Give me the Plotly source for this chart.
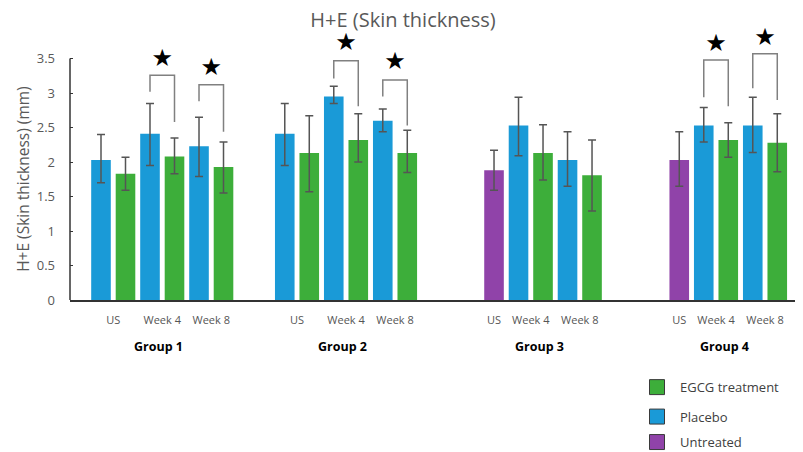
import plotly.graph_objects as go

# ---------------- data ----------------
groups = ["Group 1", "Group 2", "Group 3", "Group 4"]
timepoints = ["US", "Week 4", "Week 8"]
series_names = ["EGCG treatment", "Placebo", "Untreated"]

bar_group = ["Group 1"] * 6 + ["Group 2"] * 6 + ["Group 3"] * 5 + ["Group 4"] * 5
bar_time = (["US", "US", "Week 4", "Week 4", "Week 8", "Week 8"] * 2
            + ["US", "Week 4", "Week 4", "Week 8", "Week 8"] * 2)
bar_series = ((["Placebo", "EGCG treatment"] * 3) * 2
              + (["Untreated"] + ["Placebo", "EGCG treatment"] * 2) * 2)
bar_mean = [2.03, 1.83, 2.41, 2.08, 2.23, 1.93,
            2.41, 2.13, 2.95, 2.32, 2.60, 2.13,
            1.88, 2.53, 2.13, 2.03, 1.81,
            2.03, 2.53, 2.32, 2.53, 2.28]
bar_upper = [2.40, 2.07, 2.85, 2.35, 2.65, 2.29,
             2.85, 2.67, 3.10, 2.70, 2.77, 2.46,
             2.17, 2.94, 2.54, 2.44, 2.32,
             2.44, 2.79, 2.57, 2.94, 2.70]
bar_lower = [1.70, 1.59, 1.95, 1.83, 1.79, 1.55,
             1.95, 1.57, 2.85, 2.00, 2.44, 1.85,
             1.59, 2.09, 1.74, 1.65, 1.29,
             1.65, 2.29, 2.07, 2.14, 1.86]

# significance brackets (Placebo vs EGCG)
sig_group = ["Group 1", "Group 1", "Group 2", "Group 2", "Group 4", "Group 4"]
sig_time = ["Week 4", "Week 8"] * 3
sig_top = [3.26, 3.12, 3.47, 3.19, 3.48, 3.57]
sig_left_end = [3.02, 2.88, 3.21, 2.95, 2.94, 3.07]
sig_right_end = [2.58, 2.44, 2.81, 2.53, 2.81, 2.90]
sig_star = [3.48, 3.35, 3.71, 3.44, 3.70, 3.79]

y_ticks = [0, 0.5, 1, 1.5, 2, 2.5, 3, 3.5]

# ---------------- styling / layout ----------------
colors = {"EGCG treatment": "#3DAE3A", "Placebo": "#1A9AD7", "Untreated": "#9043A9"}
group_start = {"Group 1": 0.0, "Group 2": 7.5, "Group 3": 16.04, "Group 4": 23.6}
axis_grey = "#595959"

# the page body adds an 8px offset, so the figure is drawn 8px smaller
W, H = 795, 444
ML, MT, MB = 62, 23, H - 292.3
PW, PH = W - ML, H - MT - MB


def px_to_paper(px, py):
    """page pixel -> paper coords (page has 8px body offset)"""
    return (px - 8 - ML) / PW, (H - MB - (py - 8)) / PH


# bar positions: consecutive slots inside each group
positions = []
slot = {}
for g in bar_group:
    slot[g] = slot.get(g, -1) + 1
    positions.append(group_start[g] + slot[g])

fig = go.Figure()
for s in series_names:
    idx = [i for i, bs in enumerate(bar_series) if bs == s]
    fig.add_trace(go.Bar(
        x=[positions[i] for i in idx],
        y=[bar_mean[i] for i in idx],
        width=0.8,
        name=s,
        showlegend=False,
        marker=dict(color=colors[s], line=dict(width=0)),
        error_y=dict(type="data", symmetric=False,
                     array=[bar_upper[i] - bar_mean[i] for i in idx],
                     arrayminus=[bar_mean[i] - bar_lower[i] for i in idx],
                     color="#555555", thickness=1.5, width=4),
    ))


def pos_of(g, t, s):
    for i in range(len(bar_group)):
        if bar_group[i] == g and bar_time[i] == t and bar_series[i] == s:
            return positions[i]


# brackets
bx, by, sx = [], [], []
for k in range(len(sig_group)):
    xl = pos_of(sig_group[k], sig_time[k], "Placebo")
    xr = pos_of(sig_group[k], sig_time[k], "EGCG treatment")
    bx += [xl, xl, xr, xr, None]
    by += [sig_left_end[k], sig_top[k], sig_top[k], sig_right_end[k], None]
    sx.append((xl + xr) / 2)
fig.add_trace(go.Scatter(x=bx, y=by, mode="lines", showlegend=False,
                         line=dict(color="#808080", width=1.5), hoverinfo="skip"))
fig.add_trace(go.Scatter(x=sx, y=sig_star, mode="text", text=["★"] * len(sx),
                         textposition="middle center", showlegend=False,
                         textfont=dict(size=24, color="black", family="DejaVu Sans"),
                         cliponaxis=False, hoverinfo="skip"))

# tick positions (centre of the bars of each time point in each group)
tick_vals, tick_text = [], []
for g in groups:
    for t in timepoints:
        p = [positions[i] for i in range(len(bar_group)) if bar_group[i] == g and bar_time[i] == t]
        if p:
            tick_vals.append(sum(p) / len(p))
            tick_text.append(t)

for g in groups:
    p = [positions[i] for i in range(len(bar_group)) if bar_group[i] == g]
    fig.add_annotation(x=sum(p) / len(p) - 0.15, y=px_to_paper(0, 346.5)[1],
                       xref="x", yref="paper",
                       text="<b>" + g + "</b>", showarrow=False,
                       font=dict(size=12.5, color="black"),
                       xanchor="center", yanchor="middle")

fig.add_annotation(x=px_to_paper(23, 0)[0], y=px_to_paper(0, 179)[1],
                   xref="paper", yref="paper",
                   text="H+E (Skin thickness) (mm)", textangle=-90, showarrow=False,
                   font=dict(size=15.5, color=axis_grey),
                   xanchor="center", yanchor="middle")

# y axis line only up to 3.5
fig.add_shape(type="line", xref="paper", yref="y", x0=0, x1=0, y0=0, y1=3.5,
              line=dict(color="#333333", width=1.5))

# legend drawn by hand (square swatch + label), bottom right
legend_y_px = [387.5, 417, 442.5]
sq = 7.5
for s, ly in zip(series_names, legend_y_px):
    x0, y0 = px_to_paper(657 - sq, ly + sq)
    x1, y1 = px_to_paper(657 + sq, ly - sq)
    fig.add_shape(type="rect", xref="paper", yref="paper", x0=x0, x1=x1, y0=y0, y1=y1,
                  fillcolor=colors[s], line=dict(color="#3a3a3a", width=1))
    tx, ty = px_to_paper(678, ly)
    fig.add_annotation(x=tx, y=ty, xref="paper", yref="paper", text=s,
                       showarrow=False, xanchor="left", yanchor="middle",
                       font=dict(size=13, color="#404040"))

fig.update_layout(
    width=W, height=H,
    margin=dict(l=ML, r=0, t=MT, b=MB),
    paper_bgcolor="white", plot_bgcolor="white",
    font=dict(family="Open Sans", color=axis_grey),
    barmode="overlay",
    showlegend=False,
    title=dict(text="H+E (Skin thickness)", x=395 / W, xref="container",
               y=1 - 12 / H, yref="container", xanchor="center", yanchor="middle",
               font=dict(size=20, color=axis_grey)),
    xaxis=dict(range=[-1.265, 28.65], tickvals=tick_vals, ticktext=tick_text,
               showgrid=False, zeroline=False, showline=True, linecolor="#333333",
               linewidth=1.5, ticks="", tickfont=dict(size=11, color="#555555"),
               ticklabelstandoff=9),
    yaxis=dict(range=[0, 3.9], tickvals=y_ticks, ticktext=[f"{v:g}" for v in y_ticks],
               showgrid=False, zeroline=False, showline=False,
               ticks="inside", ticklen=3, tickcolor="#333333",
               tickfont=dict(size=13, color=axis_grey), ticklabelstandoff=14),
)

fig.write_html("out.html")
